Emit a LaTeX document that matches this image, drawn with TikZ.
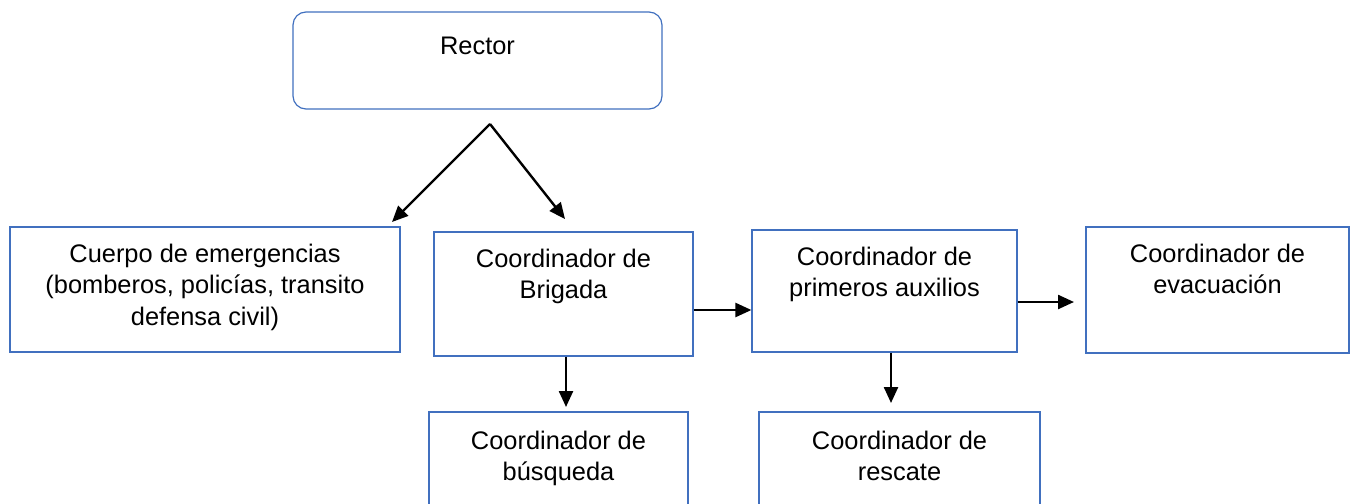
\documentclass[tikz,border=0pt]{standalone}
\usepackage{fontspec}
\setmainfont{Liberation Sans}
\usetikzlibrary{arrows.meta}
\definecolor{boxblue}{HTML}{4170BF}
\tikzset{
  unit/.style={draw=boxblue, line width=0.6pt, inner sep=0pt},
  lbl/.style={anchor=north, align=center, inner sep=0pt, font=\fontsize{12.7}{15.7}\selectfont},
  link/.style={draw, line width=1.2pt, -{Triangle[length=8pt,width=7pt]}}
}
\begin{document}
\begin{tikzpicture}[x=0.5pt,y=-0.5pt]
\useasboundingbox (0,0) rectangle (1353,503);
\node[unit, rounded corners=6.5pt, minimum width=184.5pt, minimum height=48.5pt] (rector) at (477.5,60.5) {};
\node[unit, minimum width=195pt, minimum height=62.5pt] (cuerpo) at (205,289.5) {};
\node[unit, minimum width=129.5pt, minimum height=62pt] (brig) at (563.5,294) {};
\node[unit, minimum width=132.5pt, minimum height=61pt] (prim) at (884.5,291) {};
\node[unit, minimum width=131.5pt, minimum height=63pt] (evac) at (1217.5,290) {};
\node[unit, minimum width=129.5pt, minimum height=54pt] (busq) at (558.5,466) {};
\node[unit, minimum width=140.5pt, minimum height=54pt] (resc) at (899.5,466) {};

\node[lbl] (rectortxt) at ([yshift=-12.5pt]rector.north) {Rector};
\node[lbl] (cuerpotxt) at ([yshift=-8.5pt]cuerpo.north) {Cuerpo de emergencias\\(bomberos, policías, transito\\defensa civil)};
\node[lbl] (brigtxt) at ([yshift=-8.5pt]brig.north) {Coordinador de\\Brigada};
\node[lbl] (primtxt) at ([yshift=-8.5pt]prim.north) {Coordinador de\\primeros auxilios};
\node[lbl] (evactxt) at ([yshift=-8.5pt]evac.north) {Coordinador de\\evacuación};
\node[lbl] (busqtxt) at ([yshift=-9.5pt]busq.north) {Coordinador de\\búsqueda};
\node[lbl] (resctxt) at ([yshift=-9.5pt]resc.north) {Coordinador de\\rescate};

\coordinate (fork) at (490,124);
\coordinate (cuerpoin) at (392,222);
\coordinate (brigin) at (565,219);
\coordinate (evacin) at (1074,302);
\coordinate (busqin) at (566,407);
\coordinate (rescin) at (891,403);

\path[link] (fork) -- (cuerpoin);
\path[link] (fork) -- (brigin);
\path[link] (brig.east |- 0,310) -- (prim.west |- 0,310);
\path[link] (prim.east |- evacin) -- (evacin);
\path[link] (brig.south -| busqin) -- (busqin);
\path[link] (prim.south -| rescin) -- (rescin);
\end{tikzpicture}
\end{document}
